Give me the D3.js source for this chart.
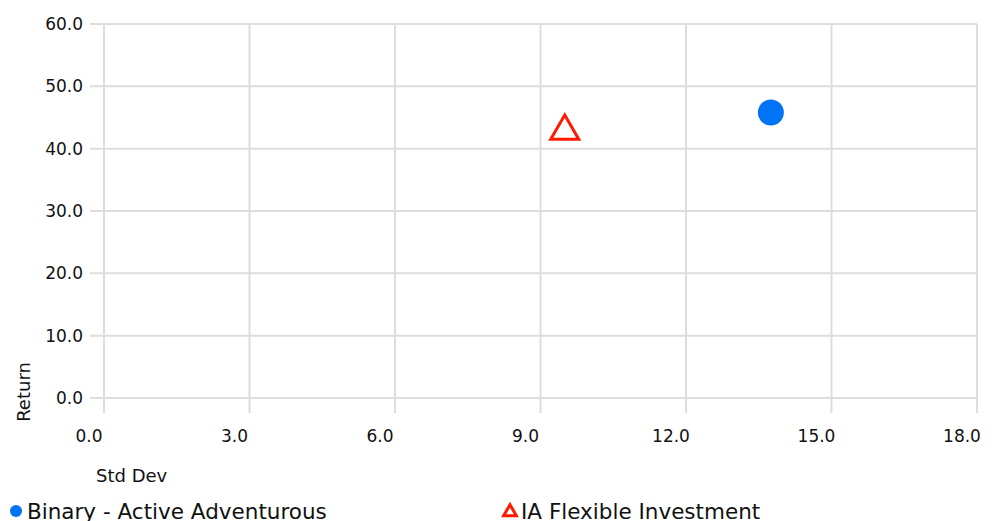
<!DOCTYPE html>
<html><head><meta charset="utf-8">
<script src="https://cdn.jsdelivr.net/npm/d3@7"></script>
<style>body{margin:0;background:#fff}text{font-family:"DejaVu Sans",sans-serif;fill:#111}</style>
</head><body><svg id="c" width="992" height="521"></svg>
<script>
const xTicks = [0,3,6,9,12,15,18];
const yTicks = [0,10,20,30,40,50,60];
const seriesNames = ["Binary - Active Adventurous","IA Flexible Investment"];
const seriesX = [13.75, 9.5];
const seriesY = [45.8, 42.8];
const seriesColor = ["#0074f5","#ff1a00"];

const svg = d3.select("#c");
const x = d3.scaleLinear().domain([0,18]).range([104,977]);
const y = d3.scaleLinear().domain([0,60]).range([398,24]);
const g = svg.append("g");
g.selectAll(".hg").data(yTicks).join("line")
  .attr("x1",90).attr("x2",977).attr("y1",d=>y(d)).attr("y2",d=>y(d))
  .attr("stroke","#dddddd").attr("stroke-width",2);
g.selectAll(".vg").data(xTicks).join("line")
  .attr("y1",24).attr("y2",413).attr("x1",d=>x(d)).attr("x2",d=>x(d))
  .attr("stroke","#dddddd").attr("stroke-width",2);
g.selectAll(".yl").data(yTicks).join("text")
  .attr("x",83).attr("y",d=>y(d)).attr("dy","0.35em").attr("text-anchor","end")
  .attr("font-size",17).text(d=>d.toFixed(1));
g.selectAll(".xl").data(xTicks).join("text")
  .attr("x",d=>x(d)-15).attr("y",436).attr("dy","0.35em").attr("text-anchor","middle")
  .attr("font-size",17).text(d=>d.toFixed(1));
svg.append("text").attr("transform","translate(30,392) rotate(-90)").attr("text-anchor","middle")
  .attr("font-size",18).text("Return");
svg.append("text").attr("x",96).attr("y",482).attr("font-size",18).text("Std Dev");
svg.append("circle").attr("cx",x(seriesX[0])).attr("cy",y(seriesY[0])).attr("r",13).attr("fill",seriesColor[0]);
svg.append("path").attr("d",d3.symbol(d3.symbolTriangle,340)())
  .attr("transform",`translate(${x(seriesX[1])},${y(seriesY[1])})`)
  .attr("fill","#fff").attr("stroke",seriesColor[1]).attr("stroke-width",3);
svg.append("circle").attr("cx",16).attr("cy",511).attr("r",6).attr("fill",seriesColor[0]);
svg.append("text").attr("x",27).attr("y",519).attr("font-size",21.5).text(seriesNames[0]);
svg.append("path").attr("d",d3.symbol(d3.symbolTriangle,70)())
  .attr("transform","translate(510,512)").attr("fill","#fff").attr("stroke",seriesColor[1]).attr("stroke-width",3);
svg.append("text").attr("x",521).attr("y",519).attr("font-size",21.5).text(seriesNames[1]);
</script></body></html>
